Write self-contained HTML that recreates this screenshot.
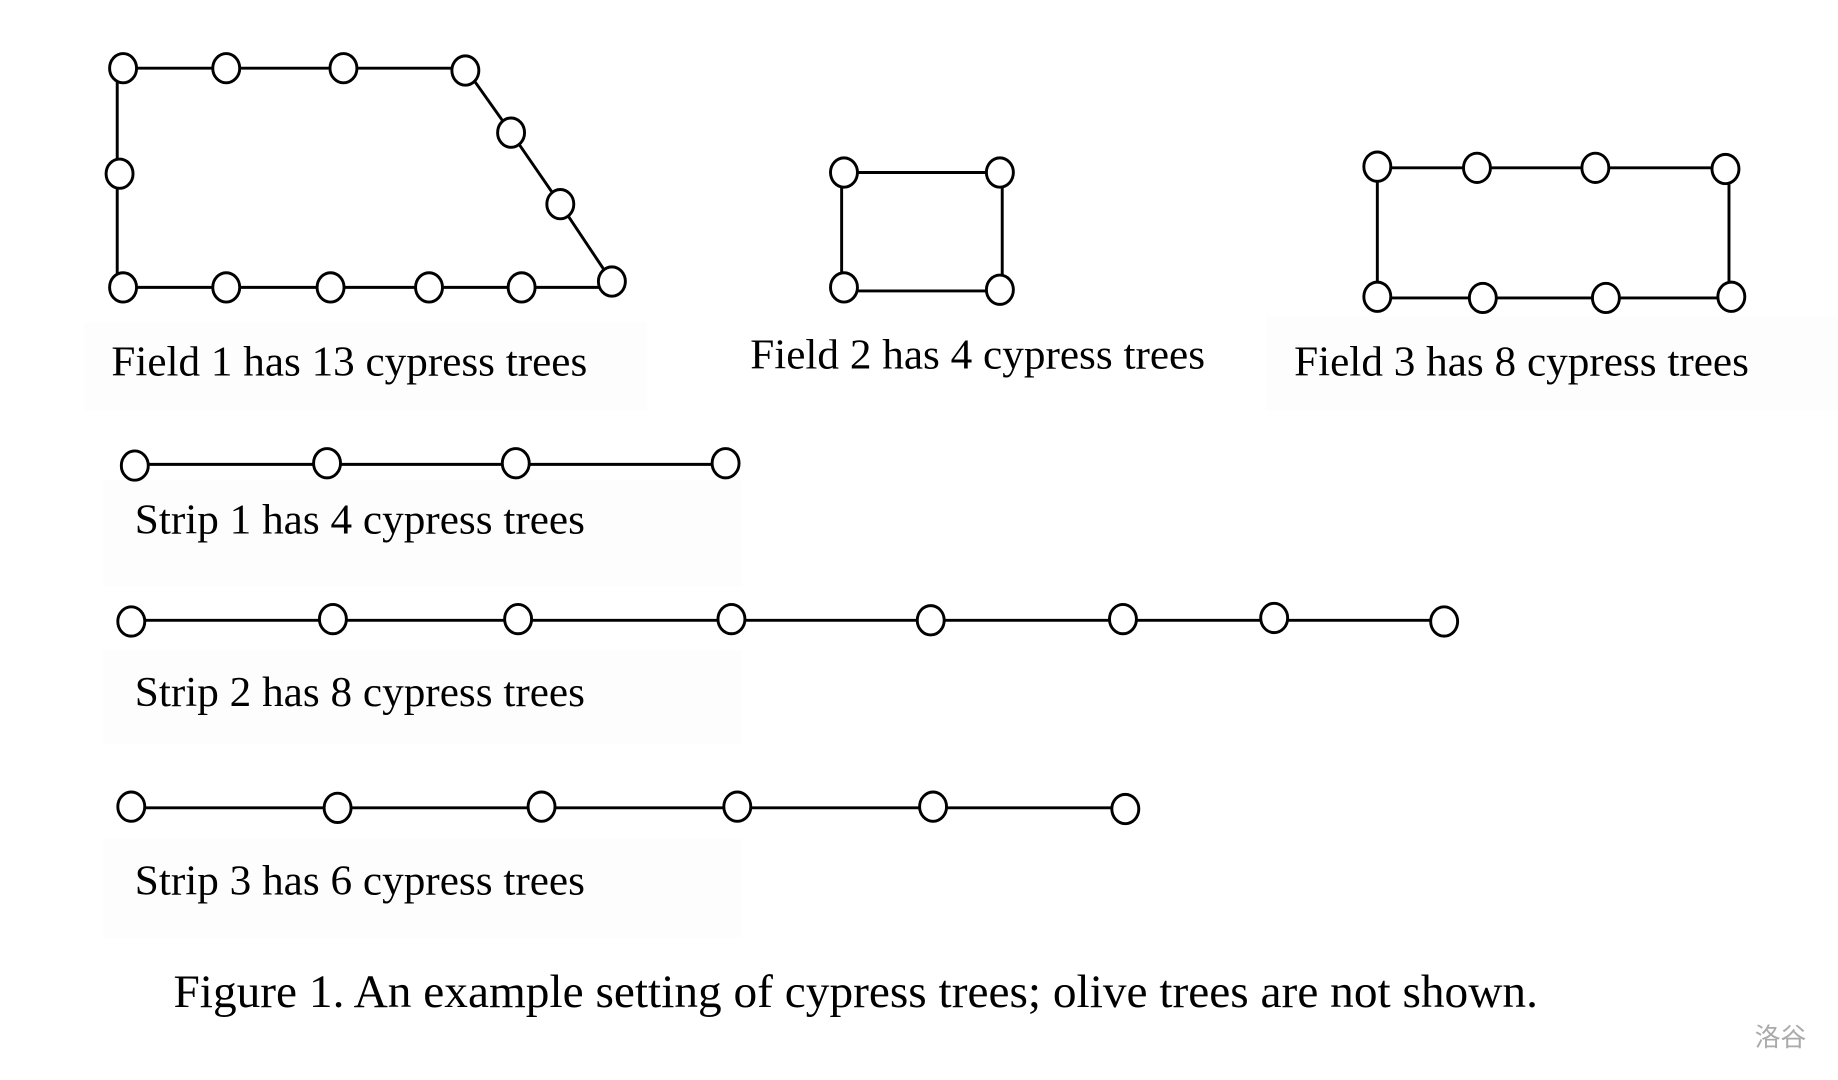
<!DOCTYPE html>
<html><head><meta charset="utf-8"><style>html,body{margin:0;padding:0;background:#fff;}svg{display:block;}</style></head>
<body>
<svg width="1838" height="1080" viewBox="0 0 1568 921" xmlns="http://www.w3.org/2000/svg">
<rect width="1568" height="921" fill="#fff"/>
<g fill="#fdfdfd">
<rect x="72" y="275" width="480" height="75"/>
<rect x="1080" y="270" width="488" height="80"/>
<rect x="88" y="410" width="545" height="90"/>
<rect x="88" y="555" width="545" height="80"/>
<rect x="88" y="715" width="545" height="85"/>
</g>
<g stroke="#000" stroke-width="2.5" fill="none">
<polyline points="100,58 397,58 436,113 478,174 522,240"/>
<polyline points="100,58 100,245 522,245"/>
<polyline points="718,147 855,147 855,248 718,248 718,147"/>
<polyline points="1175,143 1475,143 1475,254 1175,254 1175,143"/>
<line x1="115" y1="396" x2="619" y2="396"/>
<line x1="112" y1="529" x2="1232" y2="529"/>
<line x1="112" y1="689" x2="960" y2="689"/>
</g>
<g stroke="#000" stroke-width="2.5" fill="#fff">
<ellipse cx="105" cy="58" rx="11.5" ry="12.5"/><ellipse cx="193" cy="58" rx="11.5" ry="12.5"/><ellipse cx="293" cy="58" rx="11.5" ry="12.5"/><ellipse cx="397" cy="60" rx="11.5" ry="12.5"/>
<ellipse cx="436" cy="113" rx="11.5" ry="12.5"/><ellipse cx="478" cy="174" rx="11.5" ry="12.5"/><ellipse cx="522" cy="240" rx="11.5" ry="12.5"/>
<ellipse cx="102" cy="148" rx="11.5" ry="12.5"/>
<ellipse cx="105" cy="245" rx="11.5" ry="12.5"/><ellipse cx="193" cy="245" rx="11.5" ry="12.5"/><ellipse cx="282" cy="245" rx="11.5" ry="12.5"/><ellipse cx="366" cy="245" rx="11.5" ry="12.5"/><ellipse cx="445" cy="245" rx="11.5" ry="12.5"/>
<ellipse cx="720" cy="147" rx="11.5" ry="12.5"/><ellipse cx="853" cy="147" rx="11.5" ry="12.5"/><ellipse cx="720" cy="245" rx="11.5" ry="12.5"/><ellipse cx="853" cy="247" rx="11.5" ry="12.5"/>
<ellipse cx="1175" cy="142" rx="11.5" ry="12.5"/><ellipse cx="1260" cy="143" rx="11.5" ry="12.5"/><ellipse cx="1361" cy="143" rx="11.5" ry="12.5"/><ellipse cx="1472" cy="144" rx="11.5" ry="12.5"/>
<ellipse cx="1175" cy="253" rx="11.5" ry="12.5"/><ellipse cx="1265" cy="254" rx="11.5" ry="12.5"/><ellipse cx="1370" cy="254" rx="11.5" ry="12.5"/><ellipse cx="1477" cy="253" rx="11.5" ry="12.5"/>
<ellipse cx="115" cy="397" rx="11.5" ry="12.5"/><ellipse cx="279" cy="395" rx="11.5" ry="12.5"/><ellipse cx="440" cy="395" rx="11.5" ry="12.5"/><ellipse cx="619" cy="395" rx="11.5" ry="12.5"/>
<ellipse cx="112" cy="530" rx="11.5" ry="12.5"/><ellipse cx="284" cy="528" rx="11.5" ry="12.5"/><ellipse cx="442" cy="528" rx="11.5" ry="12.5"/><ellipse cx="624" cy="528" rx="11.5" ry="12.5"/><ellipse cx="794" cy="529" rx="11.5" ry="12.5"/><ellipse cx="958" cy="528" rx="11.5" ry="12.5"/><ellipse cx="1087" cy="527" rx="11.5" ry="12.5"/><ellipse cx="1232" cy="530" rx="11.5" ry="12.5"/>
<ellipse cx="112" cy="688" rx="11.5" ry="12.5"/><ellipse cx="288" cy="689" rx="11.5" ry="12.5"/><ellipse cx="462" cy="688" rx="11.5" ry="12.5"/><ellipse cx="629" cy="688" rx="11.5" ry="12.5"/><ellipse cx="796" cy="688" rx="11.5" ry="12.5"/><ellipse cx="960" cy="690" rx="11.5" ry="12.5"/>
</g>
<g font-family="'Liberation Serif', serif" font-size="36" fill="#000">
<text x="95" y="320" textLength="406" lengthAdjust="spacingAndGlyphs">Field 1 has 13 cypress trees</text>
<text x="640" y="314" textLength="388" lengthAdjust="spacingAndGlyphs">Field 2 has 4 cypress trees</text>
<text x="1104" y="320" textLength="388" lengthAdjust="spacingAndGlyphs">Field 3 has 8 cypress trees</text>
<text x="115" y="455" textLength="384" lengthAdjust="spacingAndGlyphs">Strip 1 has 4 cypress trees</text>
<text x="115" y="602" textLength="384" lengthAdjust="spacingAndGlyphs">Strip 2 has 8 cypress trees</text>
<text x="115" y="763" textLength="384" lengthAdjust="spacingAndGlyphs">Strip 3 has 6 cypress trees</text>
<text x="148" y="859" font-size="40" textLength="1164" lengthAdjust="spacingAndGlyphs">Figure 1. An example setting of cypress trees; olive trees are not shown.</text>
</g>
<text x="1497" y="892" font-family="'Noto Sans CJK SC', sans-serif" font-size="22" fill="#aaa">洛谷</text>
</svg>
</body></html>
